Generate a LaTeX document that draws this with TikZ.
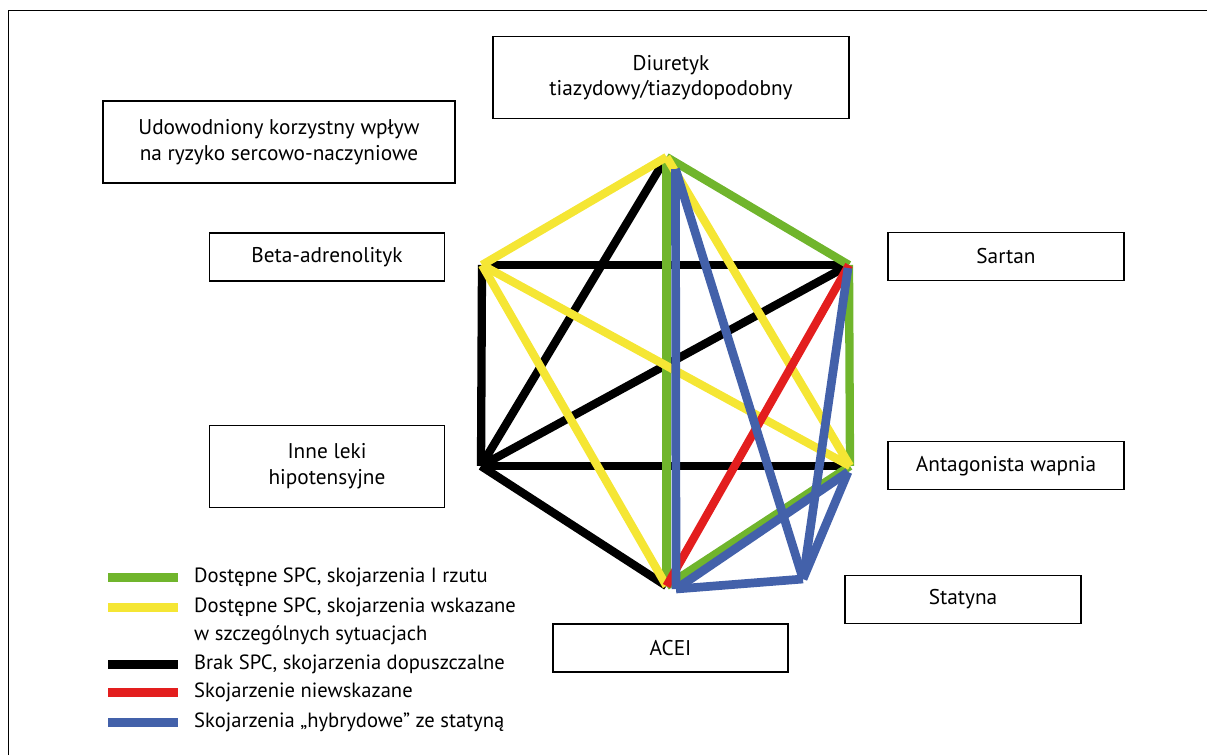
\documentclass[tikz,border=0pt]{standalone}
\usepackage{fontspec}
\setmainfont{PT Sans}
\usepackage{xcolor}
\usetikzlibrary{positioning}

\definecolor{spcgreen}{RGB}{112,181,44}
\definecolor{spcyellow}{RGB}{245,230,52}
\definecolor{spcred}{RGB}{227,30,30}
\definecolor{spcblue}{RGB}{67,97,170}

\begin{document}
\begin{tikzpicture}[x=1pt,y=-1pt,
    drug/.style={draw,line width=1.3pt,align=center,inner sep=0pt,
        minimum width=235pt,minimum height=48pt,
        font=\fontsize{21.3}{25.5}\selectfont},
    drugtall/.style={drug,minimum height=82pt},
    combo/.style={line width=8.3pt},
    first/.style={combo,spcgreen},
    special/.style={combo,spcyellow},
    allowed/.style={combo,black},
    notadv/.style={combo,spcred},
    hybrid/.style={combo,spcblue,line width=8.7pt},
    legtext/.style={anchor=west,align=left,inner sep=0pt,
        font=\fontsize{20.6}{28.5}\selectfont}]
    \useasboundingbox (0,0) rectangle (1207,755);
    % frame
    \draw[line width=1.5pt] (8.5,755) -- (8.5,10.5) -- (1207,10.5);

    % drug boxes
    \node[drugtall,minimum width=356pt] (diu) at (671,77.5)
        {Diuretyk\\tiazydowy/tiazydopodobny};
    \node[drugtall,minimum width=352pt] (proof) at (279,142)
        {Udowodniony korzystny wpływ\\na ryzyko sercowo-naczyniowe};
    \node[drug] (beta) at (327,257) {Beta-adrenolityk};
    \node[drugtall] (inne) [below=143pt of beta] {Inne leki\\hipotensyjne};
    \node[drug,minimum width=236pt] (sart) at (1006,256.5) {Sartan};
    \node[drug,minimum width=236pt] (ca) [below=160pt of sart] {Antagonista wapnia};
    \node[drug,minimum width=236pt] (stat) at (963,599.5) {Statyna};
    \node[drug] (acei) at (670.5,648) {ACEI};

    % corners of the hexagon
    \coordinate (vDiu) at (666.5,157);
    \coordinate (vBeta) at (482,265);
    \coordinate (vSart) at (849,265);
    \coordinate (vInne) at (481,466);
    \coordinate (vCa) at (850,466);
    \coordinate (vAcei) at (666.5,586);
    \coordinate (vStat) at (803,579);
    \coordinate (vDiuB) at (675.5,169);
    \coordinate (vAceiB) at (676,589);
    \coordinate (vCaB) at (848,472);
    \coordinate (vSartB) at (848,268);

    % black
    \draw[allowed] (vBeta) -- (vSart);
    \draw[allowed] (vBeta) -- (vInne);
    \draw[allowed] (vInne) -- (vCa);
    \draw[allowed] (vDiu) -- (vInne);
    \draw[allowed] (vSart) -- (vInne);
    \draw[allowed] (vInne) -- (vAcei);
    % green
    \draw[first] (vDiu) -- (vSart);
    \draw[first] (vDiu) -- (vAcei);
    \draw[first] (vSart) -- (vCa);
    \draw[first] (vCa) -- (vAcei);
    % yellow
    \draw[special] (vDiu) -- (vBeta);
    \draw[special] (vDiu) -- (vCa);
    \draw[special] (vBeta) -- (vCa);
    \draw[special] (vBeta) -- (vAcei);
    % red
    \draw[notadv] (vSart) -- (vAcei);
    % blue
    \draw[hybrid] (vDiuB) -- (vAceiB);
    \draw[hybrid] (vDiuB) -- (vStat);
    \draw[hybrid] (vSartB) -- (vStat);
    \draw[hybrid] (vCaB) -- (vStat);
    \draw[hybrid] (vAceiB) -- (vStat);
    \draw[hybrid] (vAceiB) -- (vCaB);

    % legend
    \node[legtext] (lgFirst) at (194,577) {Dostępne SPC, skojarzenia I rzutu};
    \node[legtext] (lgSpecial) at (194,621.5)
        {Dostępne SPC, skojarzenia wskazane\\w szczególnych sytuacjach};
    \node[legtext] (lgAllowed) at (194,664) {Brak SPC, skojarzenia dopuszczalne};
    \node[legtext] (lgNot) at (194,692) {Skojarzenie niewskazane};
    \node[legtext] (lgHybrid) at (194,722) {Skojarzenia „hybrydowe” ze statyną};
    \draw[first,line width=9pt] (108,577) -- (178,577);
    \draw[special,line width=9pt] (108,607) -- (178,607);
    \draw[allowed,line width=9pt] (108,664) -- (178,664);
    \draw[notadv,line width=9pt] (108,692) -- (178,692);
    \draw[hybrid,line width=9pt] (108,722) -- (178,722);
\end{tikzpicture}
\end{document}
